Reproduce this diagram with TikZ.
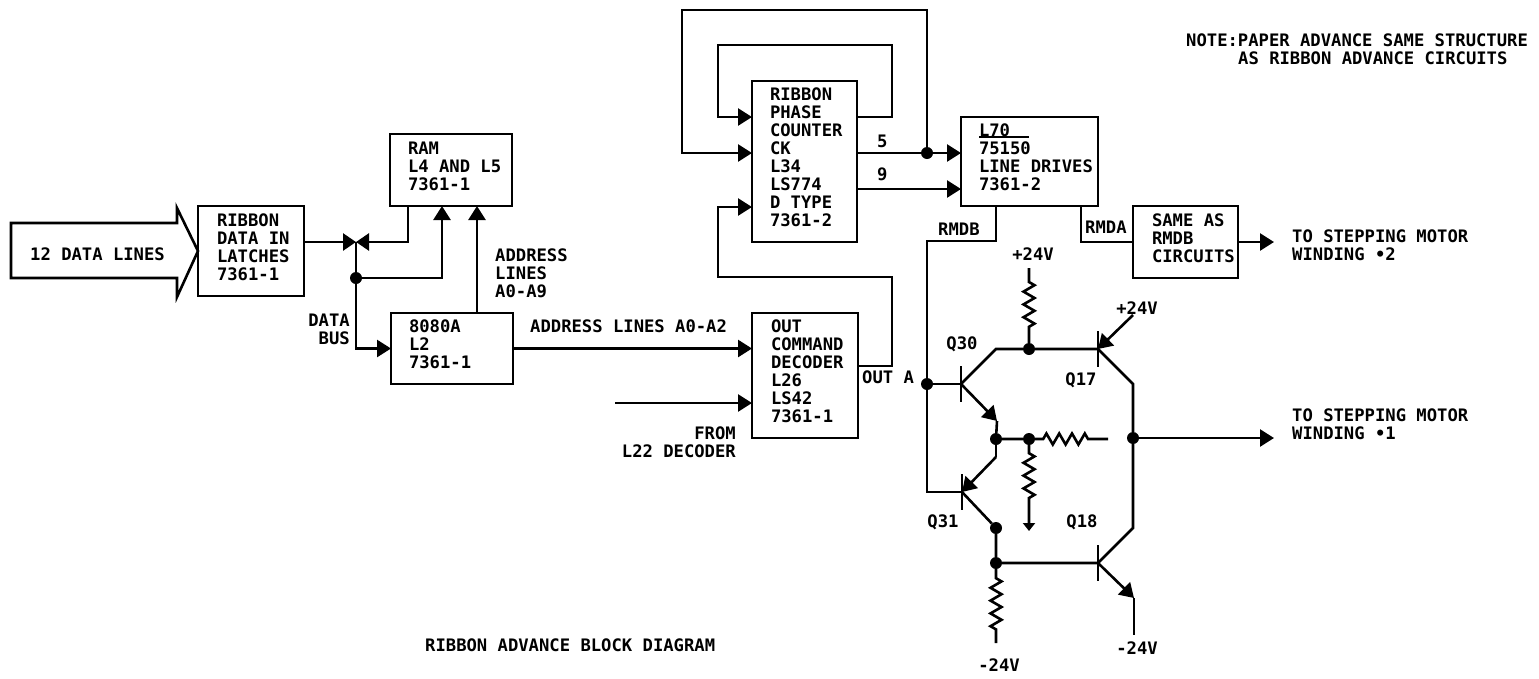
\documentclass[tikz,border=0pt]{standalone}
\usepackage{fontspec}
\setmainfont{DejaVu Sans Mono}
\usetikzlibrary{arrows.meta}
\usetikzlibrary{decorations.pathmorphing}

\tikzset{
    wire/.style={line width=2.6pt, line join=miter},
    tip/.style={-{Triangle[length=14pt,width=17pt]}},
    lettering/.style={font=\fontsize{17.2}{18}\selectfont\bfseries},
    blockbox/.style n args={3}{draw, wire, lettering, anchor=north west, outer sep=0pt,
        inner xsep=0pt, inner ysep=0pt, text width=#1pt, minimum height=#2pt, align=flush left,
        execute at begin node={\leftskip=#3pt}, execute at end node={\par\vspace{8pt}}},
    lbl/.style={lettering, inner sep=0pt, align=left, anchor=west},
    jdot/.style={circle, fill=black, inner sep=0pt, minimum size=12pt},
    resistor/.style 2 args={decorate, decoration={zigzag, segment length=12.8pt, amplitude=5.5pt,
        pre length=#1pt, post length=#2pt}}
}

\begin{document}
\begin{tikzpicture}[x=1pt,y=-1pt]
    \useasboundingbox (0,0) rectangle (1539,678);

    % blocks
    \node[blockbox={106}{90}{19}] (latches) at (198,206) {RIBBON\\DATA IN\\LATCHES\\7361-1};
    \node[blockbox={122}{72}{18}] (ram) at (390,134) {RAM\\L4 AND L5\\7361-1};
    \node[blockbox={122}{71}{18}] (cpu) at (391,313) {8080A\\L2\\7361-1};
    \node[blockbox={105}{161}{18}] (phase) at (752,81) {RIBBON\\PHASE\\COUNTER\\CK\\L34\\LS774\\D TYPE\\7361-2};
    \node[blockbox={106}{125}{19}] (decoder) at (752,313) {OUT\\COMMAND\\DECODER\\L26\\LS42\\7361-1};
    \node[blockbox={137}{89}{18}] (drives) at (961,117) {L70\\75150\\LINE DRIVES\\7361-2};
    \node[blockbox={105}{72}{19}] (same) at (1133,206) {SAME AS\\RMDB\\CIRCUITS};
    \draw[line width=1.6pt] (979,137) -- (1029,137);

    % input arrow
    \draw[wire] (11,223) -- (177,223) -- (177,208) -- (latches.west) -- (177,297) -- (177,278) -- (11,278) -- cycle;
    \node[lbl] (datalines) at (30,254) {12 DATA LINES};

    % data bus
    \coordinate (jbus) at (356,242);
    \coordinate (rama) at (408,206);
    \coordinate (ramb) at (442,206);
    \coordinate (ramc) at (477,206);
    \node[jdot] (dbus) at (356,278) {};
    \draw[wire,-{Triangle[length=13pt,width=17pt]}] (latches.east |- jbus) -- (jbus);
    \draw[wire,-{Triangle[length=13pt,width=17pt]}] (rama) -- (rama |- jbus) -- (jbus);
    \draw[wire] (jbus) -- (dbus);
    \draw[wire,tip] (dbus) -- (dbus -| ramb) -- (ramb);
    \draw[wire,tip] (dbus) |- (cpu.west);
    \draw[wire,tip] (cpu.north -| ramc) -- (ramc);
    \node[lbl,align=right,anchor=east] (databus) at (350,329.5) {DATA\\BUS};
    \node[lbl] (addrup) at (495,273) {ADDRESS\\LINES\\A0-A9};

    % to the decoder
    \coordinate (l22) at (615,403);
    \draw[wire,tip] (cpu.east) -- (cpu.east -| decoder.west);
    \draw[wire,tip] (l22) -- (l22 -| decoder.west);
    \node[lbl] (addrlow) at (530,326) {ADDRESS LINES A0-A2};
    \node[lbl,align=right,anchor=east] (from) at (736,442.5) {FROM\\L22 DECODER};

    % counter loops
    \node[jdot] (j5) at (927,153) {};
    \coordinate (q9) at (857,189);
    \coordinate (inner) at (857,117);
    \coordinate (load) at (752,207);
    \coordinate (outa) at (858,366);
    \draw[wire,tip] (phase.east |- j5) -- (j5) -- (j5 -| drives.west);
    \draw[wire,tip] (q9) -- (q9 -| drives.west);
    \draw[wire,tip] (j5) -- (927,10) -- (682,10) -- (682,153) -- (phase.west |- j5);
    \draw[wire,tip] (inner) -- (892,117) -- (892,45) -- (718,45) -- (718,117) -- (phase.west |- inner);
    \draw[wire,tip] (outa) -- (892,366) -- (892,277) -- (718,277) -- (718,207) -- (load);
    \node[lbl] (five) at (877,141) {5};
    \node[lbl] (nine) at (877,174) {9};
    \node[lbl] (outalbl) at (862,377) {OUT A};

    % drives to circuits
    \node[jdot] (j30) at (927,384) {};
    \coordinate (rmdb) at (996,206);
    \coordinate (rmda) at (1081,206);
    \coordinate (wind2) at (1274,242);
    \draw[wire] (rmda) -- (1081,242) -- (1133,242);
    \draw[wire,tip] (same.east) -- (wind2);
    \node[lbl] (rmdblbl) at (938,229) {RMDB};
    \node[lbl] (rmdalbl) at (1085,227) {RMDA};
    \node[lbl] (out2) at (1292,245.5) {TO STEPPING MOTOR\\WINDING •2};

    % transistors
    \coordinate (q30b) at (961,384);
    \coordinate (q17b) at (1098,349);
    \coordinate (q31b) at (962,492);
    \coordinate (q18b) at (1098,563);
    \foreach \b in {q30b,q17b,q31b,q18b} {
        \draw[wire] ([yshift=18pt]\b) -- ([yshift=-18pt]\b);
    }
    \node[jdot] (j17) at (1029,349) {};
    \node[jdot] (jemit) at (996,439) {};
    \node[jdot] (jbias) at (1029,439) {};
    \node[jdot] (jout) at (1133,438) {};
    \node[jdot] (jcoll) at (996,528) {};
    \node[jdot] (j18) at (996,563) {};
    \coordinate (q30e) at (997,421);
    \coordinate (q31e) at (996,457);
    \coordinate (q18e) at (1134,598);
    \coordinate (vp17) at (1133,315);

    \draw[wire] (rmdb) -- (996,241) -- (927,241) -- (j30) -- (927,492) -- (q31b);
    \draw[wire] (j30) -- (q30b);
    \draw[wire] (q30b) -- (996,349) -- (j17) -- (q17b);
    \draw[wire,tip] (q30b) -- (q30e);
    \draw[wire] (q30e) -- (jemit) -- (jbias);
    \draw[wire] (jemit) -- (q31e);
    \draw[wire,tip] (q31e) -- (q31b);
    \draw[wire] (q31b) -- (jcoll) -- (j18) -- (q18b);
    \draw[wire,tip] (vp17) -- (q17b);
    \draw[wire] (q17b) -- (1133,384) -- (jout) -- (1133,528) -- (q18b);
    \draw[wire,tip] (q18b) -- (q18e);
    \draw[wire] (q18e) -- (1134,635);
    \coordinate (wind1) at (1274,438);
    \draw[wire,tip] (jout) -- (wind1);

    % resistors
    \coordinate (vp30) at (1029,268);
    \coordinate (rend) at (1108,439);
    \coordinate (gnd) at (1029,531);
    \coordinate (vm31) at (996,643);
    \draw[wire,resistor={14}{16}] (vp30) -- (j17);
    \draw[wire,resistor={8}{15}] (jbias) -- (rend);
    \draw[wire,-{Triangle[length=8pt,width=12pt]},resistor={8}{28}] (jbias) -- (gnd);
    \draw[wire,resistor={9}{13}] (j18) -- (vm31);

    % transistor labels
    \node[lbl,anchor=center] (v30) at (1033,254) {+24V};
    \node[lbl,anchor=center] (v17) at (1137,308) {+24V};
    \node[lbl,anchor=center] (v18) at (1137,648) {-24V};
    \node[lbl,anchor=center] (v31) at (999,665) {-24V};
    \node[lbl,anchor=center] (q30lbl) at (962,344) {Q30};
    \node[lbl,anchor=center] (q17lbl) at (1081,380) {Q17};
    \node[lbl,anchor=center] (q31lbl) at (943,522) {Q31};
    \node[lbl,anchor=center] (q18lbl) at (1082,522) {Q18};
    \node[lbl] (out1) at (1292,424) {TO STEPPING MOTOR\\WINDING •1};

    % notes
    \node[lbl] (note1) at (1186,40) {NOTE:PAPER ADVANCE SAME STRUCTURE};
    \node[lbl] (note2) at (1238,58) {AS RIBBON ADVANCE CIRCUITS};
    \node[lbl] (title) at (425,645) {RIBBON ADVANCE BLOCK DIAGRAM};
\end{tikzpicture}
\end{document}
